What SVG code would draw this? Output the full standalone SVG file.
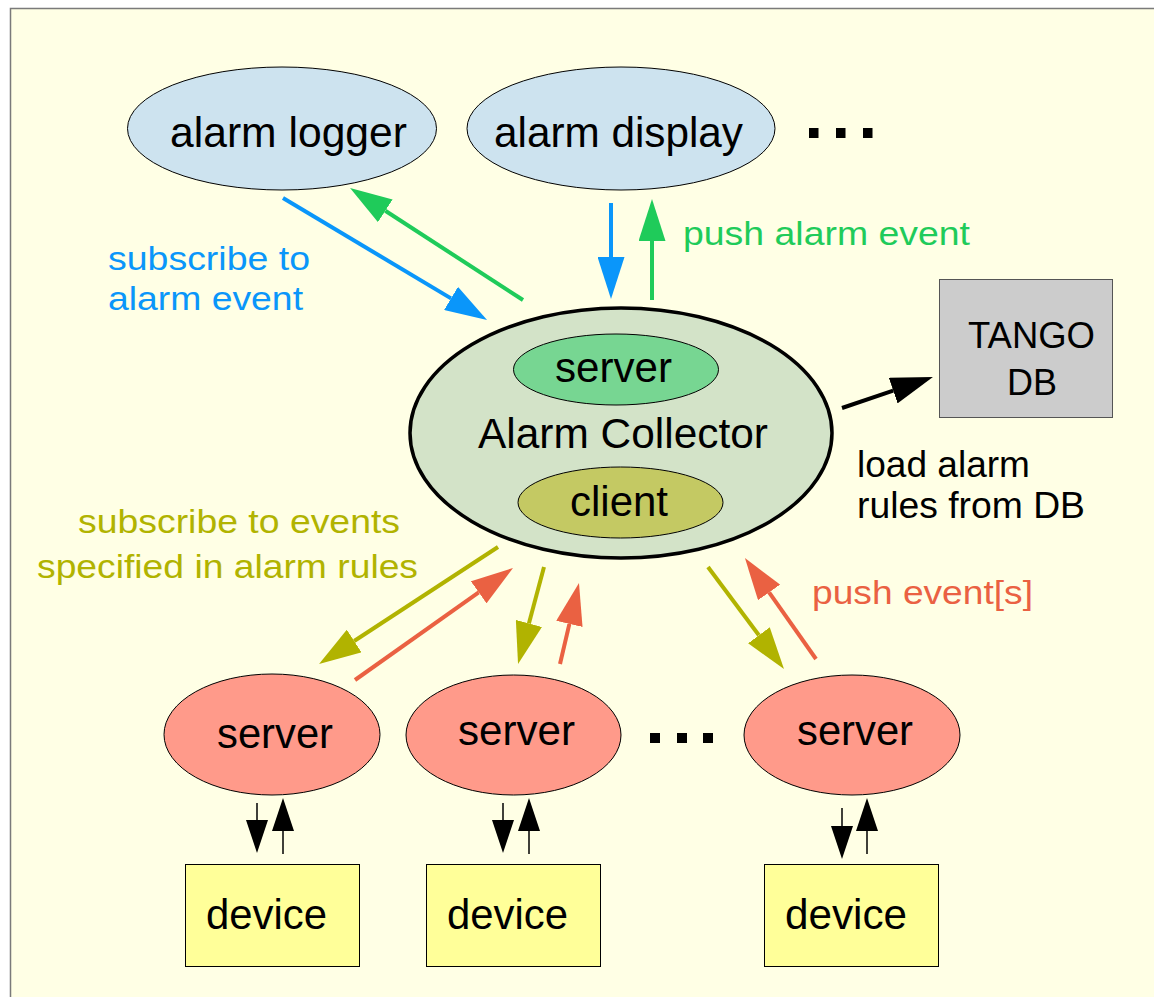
<svg xmlns="http://www.w3.org/2000/svg" width="1154" height="997" viewBox="0 0 1154 997">
  <defs>
    <style>
      text { font-family: "Liberation Sans", Arial, Helvetica, sans-serif; }
      .node { font-size: 43px; fill: #000; }
      .db { font-size: 37px; fill: #000; }
      .lbl { font-size: 34px; }
      .ln { fill: none; stroke-width: 4; }
      .blue { stroke: #0A96FA; }
      .green { stroke: #1FCB5A; }
      .olive { stroke: #B1B300; }
      .red { stroke: #EA6142; }
      .blk { stroke: #000; }
      .small { fill: none; stroke: #000; stroke-width: 1.5; }
    </style>
    <marker id="hBlue" viewBox="0 -13.5 42 27" refX="0" refY="0" markerWidth="42" markerHeight="27" markerUnits="userSpaceOnUse" orient="auto">
      <path d="M0,-13.5 L42,0 L0,13.5 z" fill="#0A96FA"/>
    </marker>
    <marker id="hGreen" viewBox="0 -13.5 42 27" refX="0" refY="0" markerWidth="42" markerHeight="27" markerUnits="userSpaceOnUse" orient="auto">
      <path d="M0,-13.5 L42,0 L0,13.5 z" fill="#1FCB5A"/>
    </marker>
    <marker id="hOlive" viewBox="0 -13.5 42 27" refX="0" refY="0" markerWidth="42" markerHeight="27" markerUnits="userSpaceOnUse" orient="auto">
      <path d="M0,-13.5 L42,0 L0,13.5 z" fill="#B1B300"/>
    </marker>
    <marker id="hRed" viewBox="0 -13.5 42 27" refX="0" refY="0" markerWidth="42" markerHeight="27" markerUnits="userSpaceOnUse" orient="auto">
      <path d="M0,-13.5 L42,0 L0,13.5 z" fill="#EA6142"/>
    </marker>
    <marker id="hBlack" viewBox="0 -13.5 42 27" refX="0" refY="0" markerWidth="42" markerHeight="27" markerUnits="userSpaceOnUse" orient="auto">
      <path d="M0,-13.5 L42,0 L0,13.5 z" fill="#000"/>
    </marker>
    <marker id="hSmall" viewBox="0 -11 33 22" refX="0" refY="0" markerWidth="33" markerHeight="22" markerUnits="userSpaceOnUse" orient="auto">
      <path d="M0,-11 L33,0 L0,11 z" fill="#000"/>
    </marker>
  </defs>

  <!-- page -->
  <rect x="0" y="0" width="1154" height="997" fill="#ffffff"/>
  <rect x="10.5" y="8.5" width="1160" height="1000" fill="#FFFFE5" stroke="#7a7a7a" stroke-width="1.5"/>

  <!-- clients of the collector -->
  <g id="alarm-logger">
    <ellipse cx="282" cy="128.5" rx="154.5" ry="61.5" fill="#CDE3EF" stroke="#000" stroke-width="1"/>
    <text class="node" x="170" y="147" textLength="237" lengthAdjust="spacingAndGlyphs">alarm logger</text>
  </g>
  <g id="alarm-display">
    <ellipse cx="621" cy="128.5" rx="154" ry="61.5" fill="#CDE3EF" stroke="#000" stroke-width="1"/>
    <text class="node" x="494" y="147" textLength="249" lengthAdjust="spacingAndGlyphs">alarm display</text>
  </g>
  <g id="more-clients" fill="#000">
    <rect x="809" y="128" width="9.5" height="10"/>
    <rect x="836" y="128" width="9.5" height="10"/>
    <rect x="863" y="128" width="9.5" height="10"/>
  </g>

  <!-- collector -->
  <g id="alarm-collector">
    <ellipse cx="621" cy="433" rx="211" ry="125" fill="#D3E3C8" stroke="#000" stroke-width="3.5"/>
    <ellipse cx="616" cy="369.5" rx="102.5" ry="35.5" fill="#77D692" stroke="#000" stroke-width="1"/>
    <text class="node" x="555" y="382" textLength="117" lengthAdjust="spacingAndGlyphs">server</text>
    <text class="node" x="478" y="448" textLength="290" lengthAdjust="spacingAndGlyphs">Alarm Collector</text>
    <ellipse cx="620.5" cy="502.5" rx="102.5" ry="35.5" fill="#C4C963" stroke="#000" stroke-width="1"/>
    <text class="node" x="570" y="516" textLength="98" lengthAdjust="spacingAndGlyphs">client</text>
  </g>

  <!-- database -->
  <g id="tango-db">
    <rect x="939.5" y="279.5" width="173" height="138" fill="#CCCCCC" stroke="#555" stroke-width="1"/>
    <text class="db" x="968" y="348" textLength="127" lengthAdjust="spacingAndGlyphs">TANGO</text>
    <text class="db" x="1007" y="395" textLength="50" lengthAdjust="spacingAndGlyphs">DB</text>
  </g>

  <!-- device servers -->
  <g id="server-1">
    <ellipse cx="272" cy="734.5" rx="108" ry="60.5" fill="#FF9A8A" stroke="#000" stroke-width="1"/>
    <text class="node" x="217" y="748" textLength="116" lengthAdjust="spacingAndGlyphs">server</text>
  </g>
  <g id="server-2">
    <ellipse cx="513.5" cy="735" rx="107.5" ry="60" fill="#FF9A8A" stroke="#000" stroke-width="1"/>
    <text class="node" x="458" y="745" textLength="117" lengthAdjust="spacingAndGlyphs">server</text>
  </g>
  <g id="more-servers" fill="#000">
    <rect x="650" y="733" width="10" height="10"/>
    <rect x="677" y="733" width="10" height="10"/>
    <rect x="703" y="733" width="10" height="10"/>
  </g>
  <g id="server-3">
    <ellipse cx="852" cy="735" rx="108" ry="60" fill="#FF9A8A" stroke="#000" stroke-width="1"/>
    <text class="node" x="797" y="745" textLength="116" lengthAdjust="spacingAndGlyphs">server</text>
  </g>

  <!-- devices -->
  <g id="device-1">
    <rect x="185.5" y="864.5" width="174" height="102" fill="#FFFF99" stroke="#000" stroke-width="1"/>
    <text class="node" x="206" y="929" textLength="121" lengthAdjust="spacingAndGlyphs">device</text>
  </g>
  <g id="device-2">
    <rect x="426.5" y="864.5" width="174" height="102" fill="#FFFF99" stroke="#000" stroke-width="1"/>
    <text class="node" x="447" y="929" textLength="121" lengthAdjust="spacingAndGlyphs">device</text>
  </g>
  <g id="device-3">
    <rect x="764.5" y="864.5" width="174" height="102" fill="#FFFF99" stroke="#000" stroke-width="1"/>
    <text class="node" x="785" y="929" textLength="122" lengthAdjust="spacingAndGlyphs">device</text>
  </g>

  <!-- connectors -->
  <g id="connectors">
    <path class="ln blue" d="M283,198 L451,298.4" marker-end="url(#hBlue)"/>
    <path class="ln green" d="M523,300 L385.3,210.8" marker-end="url(#hGreen)"/>
    <path class="ln blue" d="M611,203 L611,257" marker-end="url(#hBlue)"/>
    <path class="ln green" d="M652,300 L652,241" marker-end="url(#hGreen)"/>
    <path class="ln blk" d="M842,408 L893.2,390.6" marker-end="url(#hBlack)"/>

    <path class="ln olive" d="M498,547 L354.2,641" marker-end="url(#hOlive)"/>
    <path class="ln red" d="M355,680 L478.7,592.3" marker-end="url(#hRed)"/>
    <path class="ln olive" d="M544,567 L528.9,623.4" marker-end="url(#hOlive)"/>
    <path class="ln red" d="M560,664 L569.4,623.9" marker-end="url(#hRed)"/>
    <path class="ln olive" d="M708,567 L758.9,635.3" marker-end="url(#hOlive)"/>
    <path class="ln red" d="M816,659 L769.1,592.4" marker-end="url(#hRed)"/>

    <path class="small" d="M257,803 L257,820" marker-end="url(#hSmall)"/>
    <path class="small" d="M283,854 L283,831" marker-end="url(#hSmall)"/>
    <path class="small" d="M503,803 L503,820" marker-end="url(#hSmall)"/>
    <path class="small" d="M529,854 L529,831" marker-end="url(#hSmall)"/>
    <path class="small" d="M842,808 L842,826" marker-end="url(#hSmall)"/>
    <path class="small" d="M867,854 L867,831" marker-end="url(#hSmall)"/>
  </g>

  <!-- connector labels -->
  <g id="labels">
    <text class="lbl" fill="#0A96FA" x="108" y="270" textLength="202" lengthAdjust="spacingAndGlyphs">subscribe to</text>
    <text class="lbl" fill="#0A96FA" x="108" y="310" textLength="195" lengthAdjust="spacingAndGlyphs">alarm event</text>
    <text class="lbl" fill="#1FCB5A" x="683" y="245" textLength="287" lengthAdjust="spacingAndGlyphs">push alarm event</text>
    <text class="db" x="857" y="477" textLength="173" lengthAdjust="spacingAndGlyphs">load alarm</text>
    <text class="db" x="857" y="518" textLength="228" lengthAdjust="spacingAndGlyphs">rules from DB</text>
    <text class="lbl" fill="#B1B300" x="78" y="533" textLength="322" lengthAdjust="spacingAndGlyphs">subscribe to events</text>
    <text class="lbl" fill="#B1B300" x="37" y="578" textLength="381" lengthAdjust="spacingAndGlyphs">specified in alarm rules</text>
    <text class="lbl" fill="#EA6142" x="812" y="604" textLength="221" lengthAdjust="spacingAndGlyphs">push event[s]</text>
  </g>
</svg>
